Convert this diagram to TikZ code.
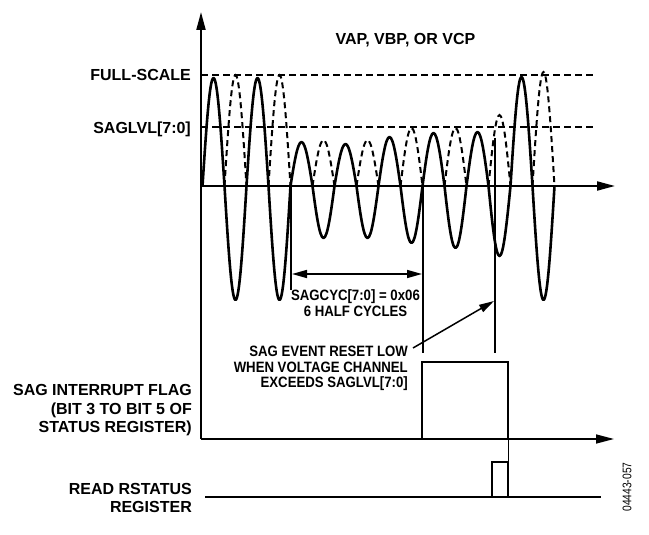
\documentclass[tikz,border=0pt]{standalone}
\usepackage{fontspec}
\setmainfont{Liberation Sans}
\newfontfamily\narrowfont{Liberation Sans}[FakeStretch=0.88]
\newfontfamily\codefont{Liberation Sans}[FakeStretch=0.82]
\usetikzlibrary{arrows.meta}
\tikzset{
  wave/.style={line width=2.6pt, line join=round},
  dwave/.style={line width=2pt, dash pattern=on 6pt off 4pt},
  refline/.style={line width=1.2pt, dash pattern=on 7pt off 4pt},
  axisline/.style={line width=2pt, -{Triangle[length=18pt,width=9pt]}},
  thinline/.style={line width=1.2pt},
  sigline/.style={line width=2.5pt, line join=miter},
  pulseline/.style={line width=1.7pt},
  bigarrow/.style={line width=1.5pt, -{Triangle[length=15pt,width=8pt]}},
  dblarrow/.style={line width=1.5pt, {Triangle[length=15pt,width=8pt]}-{Triangle[length=15pt,width=8pt]}},
  biglabel/.style={font=\fontsize{16}{18.5}\selectfont\bfseries, inner sep=0pt},
  notelabel/.style={font=\narrowfont\fontsize{15}{15.6}\selectfont\bfseries, inner sep=0pt}
}
\begin{document}
\begin{tikzpicture}[x=1pt,y=-1pt]
\useasboundingbox (0,0) rectangle (649,535);
% coordinates
\coordinate (origin) at (201,186);
\coordinate (ytop) at (201,12);
\coordinate (ybot) at (201,439);
\coordinate (xend) at (615,186);
\coordinate (fsL) at (201,75);
\coordinate (fsR) at (595,75);
\coordinate (slL) at (201,127);
\coordinate (slR) at (595,127);
\coordinate (flagend) at (614,439);
% reference dashed lines
\draw[refline] (fsL) -- (fsR);
\draw[refline] (slL) -- (slR);
% dashed rectified halves
\draw[dwave] (224.5,186) sin (235.5,75) cos (246.5,186);
\draw[dwave] (268.5,186) sin (279.5,75) cos (290.5,186);
\draw[dwave] (312.5,186) sin (323.5,140) cos (334.5,186);
\draw[dwave] (356.5,186) sin (367.5,140) cos (378.5,186);
\draw[dwave] (400.5,186) sin (411.5,128) cos (422.5,186);
\draw[dwave] (444.5,186) sin (455.5,128) cos (466.5,186);
\draw[dwave] (488.5,186) sin (499.5,115) cos (510.5,186);
\draw[dwave] (532.5,186) sin (543.5,72) cos (554.5,186);
% solid waveform
\draw[wave] (202.5,186) sin (213.5,78) cos (224.5,186) sin (235.5,300) cos (246.5,186)
  sin (257.5,78) cos (268.5,186) sin (279.5,300) cos (290.5,186)
  sin (301.5,142) cos (312.5,186) sin (323.5,238) cos (334.5,186)
  sin (345.5,144) cos (356.5,186) sin (367.5,238) cos (378.5,186)
  sin (389.5,137) cos (400.5,186) sin (411.5,243) cos (422.5,186)
  sin (433.5,133) cos (444.5,186) sin (455.5,248) cos (466.5,186)
  sin (477.5,132) cos (488.5,186) sin (499.5,256) cos (510.5,186)
  sin (521.5,77) cos (532.5,186) sin (543.5,300) cos (554.5,186);
% axes
\draw[axisline] (ybot) -- (ytop);
\draw[axisline] (origin) -- (xend);
\draw[line width=1.5pt, -{Triangle[length=18pt,width=9pt]}] (ybot) -- (flagend);
% marker lines
\coordinate (m0t) at (291,186);
\coordinate (m0b) at (291,290);
\coordinate (m1t) at (423,186);
\coordinate (m1b) at (423,353);
\coordinate (m2t) at (495,138);
\coordinate (m2b) at (495,353);
\draw[thinline] (m0t) -- (m0b);
\draw[thinline] (m1t) -- (m1b);
\draw[thinline] (m2t) -- (m2b);
% half-cycle span arrow
\coordinate (spanL) at (292,274);
\coordinate (spanR) at (422,274);
\draw[dblarrow] (spanL) -- (spanR);
% labels
\node[biglabel, anchor=base] (title) at (405.5,45) {VAP, VBP, OR VCP};
\node[biglabel, anchor=base east] (fs) at (191,80.5) {FULL-SCALE};
\node[biglabel, anchor=base east] (sl) at (191,133.5) {SAGLVL[7:0]};
\node[notelabel, anchor=north, align=center] (cyc) at (355.5,289.5) {SAGCYC[7:0] = 0x06\\6 HALF CYCLES};
\node[notelabel, anchor=north east, align=right] (evt) at (408,345.8) {SAG EVENT RESET LOW\\WHEN VOLTAGE CHANNEL\\EXCEEDS SAGLVL[7:0]};
\node[biglabel, anchor=north east, align=right] (flaglbl) at (192,384.3) {SAG INTERRUPT FLAG\\(BIT 3 TO BIT 5 OF\\STATUS REGISTER)};
\node[biglabel, anchor=north east, align=right] (readlbl) at (192,482.7) {READ RSTATUS\\REGISTER};
\node[font=\codefont\fontsize{12.5}{14}\selectfont, rotate=90, inner sep=0pt] (code) at (627,487) {04443-057};
% event arrow
\coordinate (evtS) at (413,348);
\coordinate (evtE) at (494,301);
\draw[bigarrow] (evtS) -- (evtE);
% SAG flag signal
\coordinate (f0) at (201,439);
\coordinate (f1) at (422,439);
\coordinate (f2) at (422,362);
\coordinate (f3) at (508,362);
\coordinate (f4) at (508,439);
\draw[sigline] (f0) -- (f1) -- (f2) -- (f3) -- (f4);
% link to read pulse
\coordinate (r3) at (508,462);
\draw[line width=1pt] (f4) -- (r3);
% read status signal
\coordinate (r0) at (205,497);
\coordinate (r1) at (492,497);
\coordinate (r2) at (492,462);
\coordinate (r4) at (508,497);
\coordinate (r5) at (601,497);
\draw[line width=2pt] (r0) -- (r5);
\draw[pulseline] (r1) -- (r2) -- (r3) -- (r4);
\end{tikzpicture}
\end{document}
